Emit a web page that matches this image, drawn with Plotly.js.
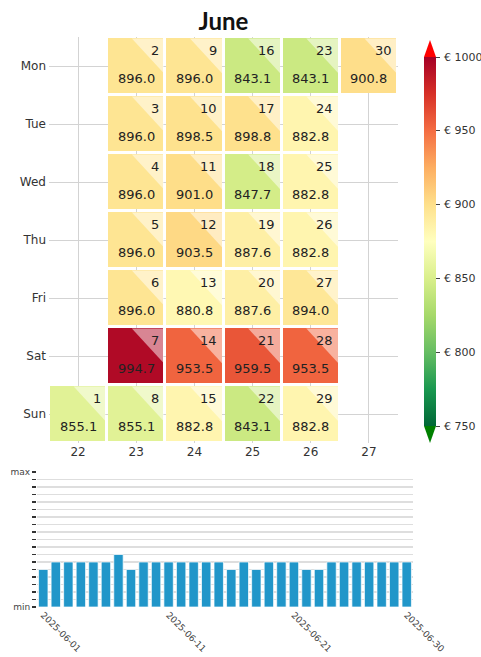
<!DOCTYPE html>
<html><head><meta charset="utf-8">
<script src="https://cdn.plot.ly/plotly-3.0.1.min.js"></script>
<style>html,body{margin:0;padding:0;background:#fff}#chart{width:481px;height:657px}</style>
</head><body><div id="chart"></div>
<script>
// ---- data ----
const monthTitle = 'June';
const year = 2025, month = 6;
const days = [1,2,3,4,5,6,7,8,9,10,11,12,13,14,15,16,17,18,19,20,21,22,23,24,25,26,27,28,29,30];
const prices = [855.1,896.0,896.0,896.0,896.0,896.0,994.7,855.1,896.0,898.5,901.0,903.5,880.8,953.5,882.8,
                843.1,898.8,847.7,887.6,887.6,959.5,843.1,843.1,882.8,882.8,882.8,894.0,953.5,882.8,900.8];
const weekNumbers = [22,23,24,25,26,27];
const weekdayLabels = ['Mon','Tue','Wed','Thu','Fri','Sat','Sun'];
const barLevels = [5,6,6,6,6,6,7,5,6,6,6,6,6,6,6,5,6,5,6,6,6,5,5,6,6,6,6,6,6,6];
const barTickDates = ['2025-06-01','2025-06-11','2025-06-21','2025-06-30'];
const colorbarTicks = [750,800,850,900,950,1000];
const colorbarLabels = ['€ 750','€ 800','€ 850','€ 900','€ 950','€ 1000'];
const zMin = 750, zMax = 1000;

// ---- derived ----
const pad = n => String(n).padStart(2,'0');
const firstWeek = weekNumbers[0];
const dowOf = d => (new Date(Date.UTC(year, month-1, d)).getUTCDay() + 6) % 7; // Mon=0
const firstDow = dowOf(1);
const weekOf = d => firstWeek + Math.floor((d - 1 + firstDow) / 7);

const z = weekdayLabels.map(() => weekNumbers.map(() => null));
days.forEach((d,i) => { z[dowOf(d)][weekNumbers.indexOf(weekOf(d))] = prices[i]; });

const rdylgn = ['#006837','#1a9850','#66bd63','#a6d96a','#d9ef8b','#ffffbf','#fee08b','#fdae61','#f46d43','#d73027','#a50026'];
const colorscale = rdylgn.map((c,i) => [i/(rdylgn.length-1), c]);

// pixel helpers for layout
const W = 481, H = 657;
const M = {l:37, r:68, t:37, b:50};
const PW = W - M.l - M.r, PH = H - M.t - M.b;
const px2x = p => (p - M.l) / PW;
const px2y = p => (H - M.b - p) / PH;
const cbTop = 57, cbBot = 426;

const heatTrace = {
  type:'heatmap', x: weekNumbers, y: weekdayLabels.map((_,i)=>i), z: z,
  xaxis:'x', yaxis:'y',
  zmin: zMin, zmax: zMax, colorscale: colorscale, xgap: 3, ygap: 3,
  hoverongaps:false,
  colorbar: {
    x: px2x(424), xanchor:'left', xpad:0, thickness:12,
    lenmode:'fraction', len: (cbBot-cbTop)/PH, y: px2y((cbTop+cbBot)/2), yanchor:'middle', ypad:0,
    outlinewidth:0, tickmode:'array', tickvals: colorbarTicks, ticks:'outside', ticklen:4,
    tickcolor:'#444', showticklabels:false
  }
};

const barTrace = {
  type:'bar', x: days.map(d => `${year}-${pad(month)}-${pad(d)}`), y: barLevels,
  xaxis:'x2', yaxis:'y2', marker:{color:'#2196c9', line:{color:'rgba(255,255,255,0.7)', width:1}},
  showlegend:false
};

const g = 1.5/58;
const shapes = [];
const annotations = [];
days.forEach((d,i) => {
  const w = weekOf(d), r = dowOf(d);
  const x0 = w - 0.5 + g, x1 = w + 0.5 - g, y0 = r - 0.5 + g, y1 = r + 0.5 - g;
  const xs = x0 + 0.42*(x1-x0), ye = y0 + 0.63*(y1-y0);
  shapes.push({type:'path', xref:'x', yref:'y', layer:'above',
    path:`M ${xs} ${y0} L ${x1} ${y0} L ${x1} ${ye} Z`,
    fillcolor:'rgba(255,255,255,0.5)', line:{width:0}});
  annotations.push({xref:'x', yref:'y', x: x1, y: y0, xanchor:'right', yanchor:'top',
    xshift:-3, yshift:-2, text:String(d), showarrow:false,
    font:{family:'DejaVu Sans', size:13, color:'#222'}});
  annotations.push({xref:'x', yref:'y', x: w, y: r, xanchor:'center', yanchor:'middle',
    yshift:-12, text: prices[i].toFixed(1), showarrow:false,
    font:{family:'DejaVu Sans', size:13, color:'#222'}});
});
// colorbar tick labels
colorbarTicks.forEach((v,i) => {
  annotations.push({xref:'paper', yref:'paper', x: px2x(442), y: px2y(cbBot - (v-zMin)/(zMax-zMin)*(cbBot-cbTop)),
    xanchor:'left', yanchor:'middle', text: colorbarLabels[i], showarrow:false,
    font:{family:'DejaVu Sans', size:11, color:'#333'}});
});
// colorbar extension arrows
const cbL = px2x(424), cbR = px2x(436), cbM = px2x(430);
shapes.push({type:'path', xref:'paper', yref:'paper', layer:'above',
  path:`M ${cbL} ${px2y(cbTop)} L ${cbR} ${px2y(cbTop)} L ${cbM} ${px2y(40)} Z`, fillcolor:'#ff0000', line:{width:0}});
shapes.push({type:'path', xref:'paper', yref:'paper', layer:'above',
  path:`M ${cbL} ${px2y(cbBot)} L ${cbR} ${px2y(cbBot)} L ${cbM} ${px2y(443)} Z`, fillcolor:'#008000', line:{width:0}});

const yLevels = []; for (let k=0;k<=18;k++) yLevels.push(k);

const layout = {
  width: W, height: H, margin: M, paper_bgcolor:'#fff', plot_bgcolor:'#fff',
  showlegend:false,
  title: {text: monthTitle, font:{family:'Lato', size:24, color:'#111', weight:'bold'},
    xref:'paper', x: px2x(223.5), xanchor:'center', yref:'container', y: 1-22/H, yanchor:'middle'},
  xaxis: {domain:[px2x(49), px2x(398)], anchor:'y', range:[weekNumbers[0]-0.5, weekNumbers[weekNumbers.length-1]+0.5],
    tickvals: weekNumbers, ticktext: weekNumbers.map(String), showgrid:true, gridcolor:'#d3d3d3', gridwidth:1,
    zeroline:false, showline:false, ticks:'', automargin:false,
    tickfont:{family:'DejaVu Sans', size:12, color:'#333'}},
  yaxis: {domain:[px2y(443), px2y(37)], anchor:'x', range:[6.5,-0.5],
    tickvals: weekdayLabels.map((_,i)=>i), ticktext: weekdayLabels, showgrid:true, gridcolor:'#d3d3d3', gridwidth:1,
    zeroline:false, showline:false, ticks:'', automargin:false, ticklabelstandoff:2,
    tickfont:{family:'DejaVu Sans', size:12, color:'#333'}},
  xaxis2: {domain:[0,1], anchor:'y2', type:'date',
    range:['2025-05-31 12:00', '2025-06-30 12:00'],
    tickvals: barTickDates, ticktext: barTickDates, tickangle:45, showgrid:false, zeroline:false, showline:false,
    ticks:'', automargin:false, tickfont:{family:'DejaVu Sans', size:9, color:'#444'}},
  yaxis2: {domain:[0, px2y(472)], anchor:'x2', range:[0,18], tickvals: yLevels,
    ticktext: yLevels.map(k => k===0 ? 'min' : (k===18 ? 'max' : '')),
    showgrid:true, gridcolor:'#dedede', gridwidth:1.5, zeroline:false, showline:false,
    ticks:'outside', ticklen:4, tickwidth:1.5, tickcolor:'#333', automargin:false,
    tickfont:{family:'DejaVu Sans', size:9, color:'#444'}},
  bargap: 0.25,
  shapes: shapes, annotations: annotations
};

Plotly.newPlot('chart', [heatTrace, barTrace], layout, {staticPlot:true, displayModeBar:false});
</script></body></html>
